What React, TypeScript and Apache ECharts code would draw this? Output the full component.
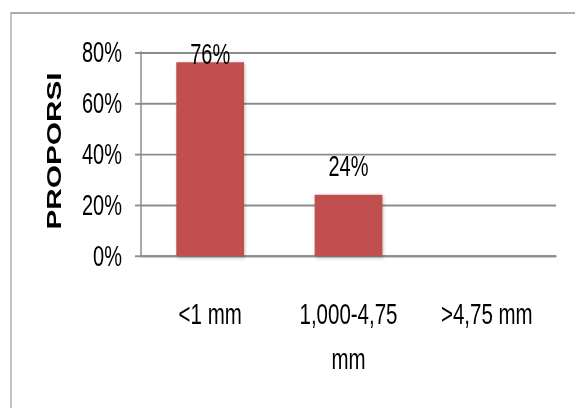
import React, { useEffect, useRef } from "react";
import * as echarts from "echarts";

const categories = ["<1 mm", "1,000-4,75\nmm", ">4,75 mm"];
const values = [76, 24, 0];
const labelDistances = [-4, 10, 5];
const yTicks = { min: 0, max: 80, interval: 20 };
const yName = "PROPORSI";

// The reference picture is a vertically stretched chart: draw it at a
// reduced height and stretch it back with a CSS scale.
const STRETCH = 1.452;
const INNER_H = 281;

const FONT = "'Liberation Sans', Arial, sans-serif";

export default function App() {
  const ref = useRef<HTMLDivElement>(null);
  useEffect(() => {
    if (!ref.current) return;
    const chart = echarts.init(ref.current, null, { renderer: "svg" });
    chart.setOption({
      animation: false,
      backgroundColor: "#ffffff",
      grid: { left: 141, right: 19, top: 35.8, bottom: 104.7 },
      graphic: [
        {
          type: "rect",
          shape: { x: 11, y: 9, width: 620, height: 330 },
          style: { fill: "none", stroke: "#ababab", lineWidth: 1.4 },
          z: -1,
        },
        {
          type: "text",
          x: 54,
          y: 104,
          rotation: Math.PI / 2,
          style: {
            text: yName,
            font: "bold 20.5px 'Liberation Sans', Arial, sans-serif",
            fill: "#000",
            textAlign: "center",
            textVerticalAlign: "middle",
          },
        },
      ],
      xAxis: {
        type: "category",
        data: categories,
        axisLine: { lineStyle: { color: "#8c8c8c", width: 1.3 } },
        axisTick: { length: 7.6, lineStyle: { color: "#8c8c8c", width: 1.5 } },
        axisLabel: {
          margin: 24,
          color: "#000",
          fontFamily: FONT,
          fontSize: 20.5,
          lineHeight: 31,
          interval: 0,
        },
      },
      yAxis: {
        type: "value",
        min: yTicks.min,
        max: yTicks.max,
        interval: yTicks.interval,
        axisLine: { show: true, lineStyle: { color: "#8c8c8c", width: 1.5 } },
        axisTick: { show: true, length: 6, lineStyle: { color: "#8c8c8c", width: 1.3 } },
        splitLine: { lineStyle: { color: "#8c8c8c", width: 1.3 } },
        axisLabel: {
          margin: 19,
          color: "#000",
          fontFamily: FONT,
          fontSize: 20,
          formatter: (v: number) => v + "%",
        },
      },
      series: [
        {
          type: "bar",
          barWidth: "49%",
          data: values.map((v, i) => ({
            value: v,
            label: { distance: labelDistances[i] },
          })),
          itemStyle: {
            color: "#c0504d",
            shadowColor: "rgba(0,0,0,0.25)",
            shadowBlur: 3,
            shadowOffsetX: 1,
            shadowOffsetY: 1,
          },
          label: {
            show: true,
            position: "top",
            color: "#000",
            fontFamily: FONT,
            fontSize: 20,
            formatter: (p: any) => (p.value > 0 ? p.value + "%" : ""),
          },
        },
      ],
    });
    return () => chart.dispose();
  }, []);
  return (
    <div
      ref={ref}
      style={{
        width: 575,
        height: INNER_H,
        position: "absolute",
        left: 0,
        top: 0,
        transform: `scaleY(${STRETCH})`,
        transformOrigin: "0 0",
      }}
    />
  );
}
